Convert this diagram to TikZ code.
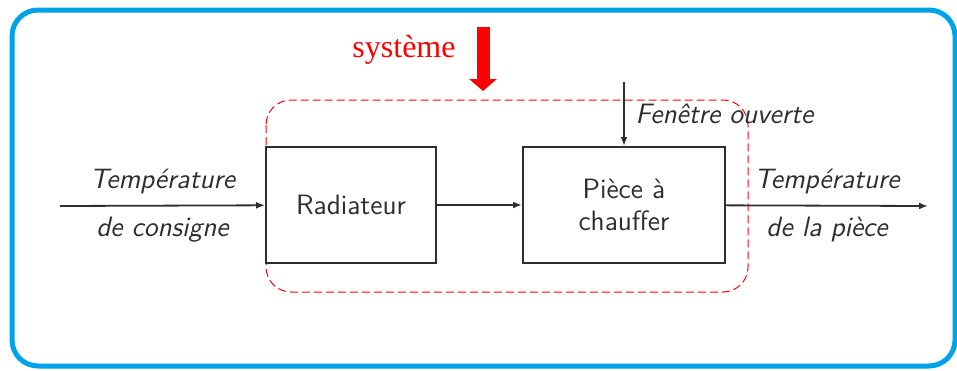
\documentclass[tikz,border=0pt]{standalone}
\usepackage{fontspec}
\newfontfamily\timesfont{Liberation Serif}
\usetikzlibrary{positioning,arrows.meta}
\definecolor{FrameBlue}{HTML}{00A2E8}
\definecolor{BoxGray}{HTML}{2E2E2E}

\begin{document}
\begin{tikzpicture}[x=0.5pt,y=-0.5pt,
      blk/.style={draw=BoxGray,line width=1pt,minimum height=58pt,align=center,
                  font=\fontsize{14}{16}\selectfont\sffamily,text=BoxGray},
      sig/.style={-{Latex[length=4.5pt,width=3.5pt]},BoxGray,line width=0.9pt},
      lbl/.style={font=\fontsize{14}{16}\selectfont\sffamily\itshape,text=BoxGray}]
    \useasboundingbox (0,0) rectangle (957,370);
    % outer frame and system boundary
    \draw[FrameBlue,line width=2.5pt,rounded corners=13pt] (12,10) rectangle (955,366);
    \draw[red,dashed,dash pattern=on 4pt off 2pt,line width=0.5pt,rounded corners=12.5pt]
      (266,100) rectangle (748,292);
    % blocks
    \node[blk,minimum width=85pt]  (rad)   at (351,205) {Radiateur};
    \node[blk,minimum width=101pt] (piece) at (624,205) {Pièce à\\chauffer};
    \coordinate (cons) at (60,206);
    \coordinate (sortie) at (928,206);
    \coordinate (fen) at (624,82);
    % signals
    \draw[sig] (cons) -- node[lbl,above=2pt]{Température} node[lbl,below=2pt]{de consigne} (rad);
    \draw[sig] (rad) -- (piece);
    \draw[sig] (piece) -- node[lbl,above=2pt]{Température} node[lbl,below=2pt]{de la pièce} (sortie);
    \draw[sig] (fen) -- node[lbl,right=2pt]{Fenêtre ouverte} (piece);
    % system label
    \node[red,font=\fontsize{16}{18}\selectfont\timesfont] (sys) at (404,50) {système};
    \coordinate (sysT) at (483,27);
    \coordinate (sysB) at (483,91);
    \draw[red,line width=6.5pt,-{Triangle[length=6pt,width=13.5pt]}] (sysT) -- (sysB);
  \end{tikzpicture}
\end{document}
